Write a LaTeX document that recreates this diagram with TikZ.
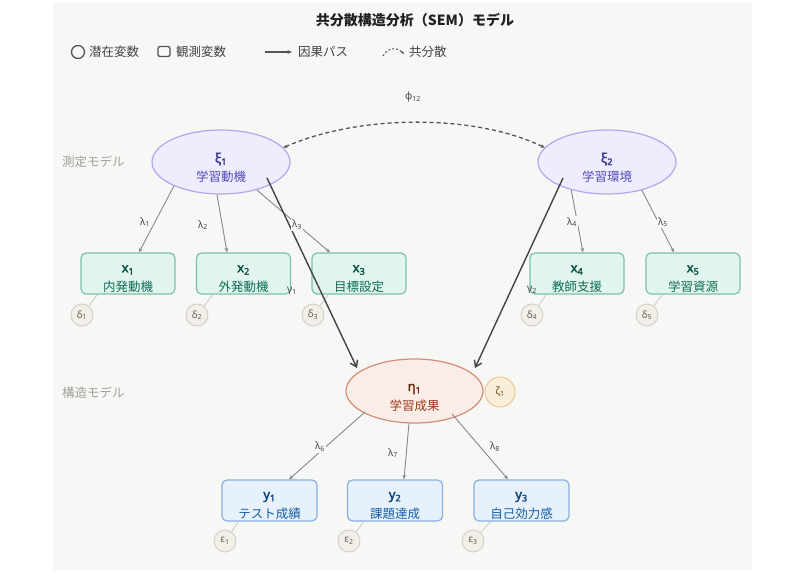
\documentclass[tikz,border=0pt]{standalone}
\usepackage{fontspec}
\setmainfont{Noto Sans CJK JP}
\newfontfamily\gk{Noto Sans}
\newfontfamily\gkb[AutoFakeBold=2.2]{Noto Sans}
\usetikzlibrary{shapes.geometric,arrows.meta,calc}
\definecolor{panel}{HTML}{F7F7F5}
\definecolor{latfill}{HTML}{EEEDFE}
\definecolor{latstroke}{HTML}{AFA9EC}
\definecolor{latname}{HTML}{3C3489}
\definecolor{latdesc}{HTML}{534AB7}
\definecolor{xfill}{HTML}{E1F5EE}
\definecolor{xstroke}{HTML}{7CC2A6}
\definecolor{xname}{HTML}{085041}
\definecolor{xdesc}{HTML}{0F6E56}
\definecolor{etafill}{HTML}{FAECE7}
\definecolor{etastroke}{HTML}{D38C77}
\definecolor{etaname}{HTML}{712B13}
\definecolor{etadesc}{HTML}{993C1D}
\definecolor{yfill}{HTML}{E6F1FB}
\definecolor{ystroke}{HTML}{85B2E0}
\definecolor{yname}{HTML}{0C447C}
\definecolor{ydesc}{HTML}{185FA5}
\definecolor{errfill}{HTML}{F1EFE8}
\definecolor{errstroke}{HTML}{D3D1C7}
\definecolor{errtext}{HTML}{5F5E5A}
\definecolor{zfill}{HTML}{FAEEDA}
\definecolor{zstroke}{HTML}{EAC98C}
\definecolor{ztext}{HTML}{633806}
\definecolor{loadc}{HTML}{888888}
\definecolor{structc}{HTML}{444444}
\definecolor{labc}{HTML}{444444}
\definecolor{sidegray}{HTML}{A0A09C}
\definecolor{legc}{HTML}{555555}
\definecolor{errlc}{HTML}{CFCFCB}
\definecolor{titlec}{HTML}{222222}
\begin{document}
\begin{tikzpicture}[x=1pt,y=-1pt,
  latent/.style={ellipse, draw=latstroke, fill=latfill, line width=1.2, minimum width=138, minimum height=64, inner sep=0},
  obsx/.style={rectangle, rounded corners=5, draw=xstroke, fill=xfill, line width=1.2, minimum width=94, minimum height=41, inner sep=0},
  obsy/.style={rectangle, rounded corners=5, draw=ystroke, fill=yfill, line width=1.2, minimum width=95, minimum height=41, inner sep=0},
  endo/.style={ellipse, draw=etastroke, fill=etafill, line width=1.2, minimum width=137, minimum height=64, inner sep=0},
  errc/.style={circle, draw=errstroke, fill=errfill, line width=1, minimum size=22, inner sep=0, text=errtext, font=\gk\fontsize{10}{12}\selectfont},
  distc/.style={circle, draw=zstroke, fill=zfill, line width=1, minimum size=30, inner sep=0, text=ztext, font=\gk\fontsize{10}{12}\selectfont},
  vname/.style={inner sep=0, font=\gkb\fontsize{13}{15}\selectfont\bfseries},
  vdesc/.style={inner sep=0, font=\fontsize{12.5}{15}\selectfont},
  loadarrow/.style={draw=loadc, line width=0.9, -{Stealth[length=4.5,width=3.6]}},
  structarrow/.style={draw=structc, line width=1.4, -{Straight Barb[length=6,width=8]}},
  errline/.style={draw=errlc, line width=0.9},
  lab/.style={fill=panel, inner sep=1.5, text=labc, font=\gk\fontsize{10}{12}\selectfont},
  glab/.style={inner sep=0, text=labc, font=\gk\fontsize{10}{12}\selectfont},
  legtext/.style={anchor=west, inner sep=0, text=labc, font=\fontsize{12.5}{15}\selectfont},
  sidetext/.style={anchor=west, inner sep=0, text=sidegray, font=\fontsize{12.5}{15}\selectfont}
]
\useasboundingbox (0,0) rectangle (800,586);
\fill[panel] (53,2) rectangle (752,570);

% title
\node[inner sep=0, text=titlec, font=\fontsize{14}{16}\selectfont\bfseries] (title) at (415,20) {共分散構造分析（SEM）モデル};

% legend
\node[circle, draw=legc, line width=1.3, minimum size=13, inner sep=0] (legcirc) at (78,52) {};
\node[legtext] (legt1) at (89,52) {潜在変数};
\node[rectangle, rounded corners=2, draw=legc, line width=1.3, minimum width=12, minimum height=10, inner sep=0] (legrect) at (164,51.5) {};
\node[legtext] (legt2) at (176,52) {観測変数};
\coordinate (lega1) at (265,52);
\coordinate (lega2) at (292,52);
\draw[draw=legc, line width=1.2, -{Stealth[length=4.5,width=3.6]}] (lega1) -- (lega2);
\node[legtext] (legt3) at (298,52) {因果パス};
\coordinate (legc1) at (383,56);
\coordinate (legc2) at (404,54);
\draw[draw=legc, line width=1, dash pattern=on 2pt off 2pt, -{Stealth[length=3.5,width=3]}] (legc1) .. controls (388,47) and (397,47) .. (legc2);
\node[legtext] (legt4) at (409,52) {共分散};

% side labels
\node[sidetext] (side1) at (62,162) {測定モデル};
\node[sidetext] (side2) at (62,393) {構造モデル};

% latent variables
\node[latent] (xi1) at (221,162) {};
\node[latent] (xi2) at (607,162) {};
\node[endo] (eta) at (414.5,391) {};
\node[vname, text=latname] (xi1n) at (221,159) {ξ\textsubscript{1}};
\node[vdesc, text=latdesc] (xi1d) at (221,177) {学習動機};
\node[vname, text=latname] (xi2n) at (607,159) {ξ\textsubscript{2}};
\node[vdesc, text=latdesc] (xi2d) at (607,177) {学習環境};
\node[vname, text=etaname] (etan) at (414.5,389) {η\textsubscript{1}};
\node[vdesc, text=etadesc] (etad) at (414.5,406) {学習成果};

% disturbance
\node[distc] (z1) at (500,392) {ζ\textsubscript{1}};

% observed x
\foreach \i/\xx/\dd in {1/128/内発動機, 2/243.5/外発動機, 3/359/目標設定, 4/577/教師支援, 5/693/学習資源}{
  \node[obsx] (x\i) at (\xx,273.5) {};
  \node[vname, text=xname] (x\i n) at (\xx,270) {x\textsubscript{\i}};
  \node[vdesc, text=xdesc] (x\i d) at (\xx,287) {\dd};
}
% observed y
\foreach \i/\xx/\dd in {1/269.5/テスト成績, 2/395/課題達成, 3/521.5/自己効力感}{
  \node[obsy] (y\i) at (\xx,500.5) {};
  \node[vname, text=yname] (y\i n) at (\xx,497) {y\textsubscript{\i}};
  \node[vdesc, text=ydesc] (y\i d) at (\xx,514) {\dd};
}

% error terms
\node[errc] (d1) at (82,315) {δ\textsubscript{1}};
\node[errc] (d2) at (197,315) {δ\textsubscript{2}};
\node[errc] (d3) at (313,315) {δ\textsubscript{3}};
\node[errc] (d4) at (532,315) {δ\textsubscript{4}};
\node[errc] (d5) at (647,315) {δ\textsubscript{5}};
\node[errc] (e1) at (225,541) {ε\textsubscript{1}};
\node[errc] (e2) at (349,541) {ε\textsubscript{2}};
\node[errc] (e3) at (473,541) {ε\textsubscript{3}};

\foreach \i in {1,...,5}{
  \draw[errline] (d\i) -- ($(x\i.south west)+(17,0)$);
}
\foreach \i in {1,2,3}{
  \draw[errline] (e\i) -- ($(y\i.south west)+(17,0)$);
}

% covariance
\draw[draw=legc, line width=1.3, dash pattern=on 4pt off 3pt, {Stealth[length=4,width=3.5]}-{Stealth[length=4,width=3.5]}] (xi1.13) .. controls (360,114) and (475,114) .. (xi2.167);

% loadings
\draw[loadarrow] (xi1.207) -- ($(x1.north)+(11,0)$);
\draw[loadarrow] (xi1.263) -- ($(x2.north)+(-16.5,0)$);
\draw[loadarrow] (xi1.322) -- ($(x3.north)+(-29,0)$);
\draw[loadarrow] (xi2.218) -- ($(x4.north)+(6,0)$);
\draw[loadarrow] (xi2.321) -- ($(x5.north)+(-19,0)$);
\draw[loadarrow] ($(eta)+(-49.5,21)$) -- ($(y1.north)+(19.5,0)$);
\draw[loadarrow] ($(eta)+(-5.5,32)$) -- ($(y2.north)+(9,0)$);
\draw[loadarrow] ($(eta)+(37.5,23)$) -- ($(y3.north)+(-13.5,0)$);

% structural paths
\draw[structarrow] ($(xi1)+(46,16)$) -- ($(eta)+(-57.5,-23)$);
\draw[structarrow] ($(xi2)+(-44,16)$) -- ($(eta)+(60.5,-23)$);

% labels
\node[lab] (l1) at (145,222) {λ\textsubscript{1}};
\node[lab] (l2) at (203,225) {λ\textsubscript{2}};
\node[lab] (l3) at (297,225) {λ\textsubscript{3}};
\node[lab] (l4) at (572,222) {λ\textsubscript{4}};
\node[lab] (l5) at (663,222) {λ\textsubscript{5}};
\node[lab] (l6) at (320,447) {λ\textsubscript{6}};
\node[lab] (l7) at (393,453) {λ\textsubscript{7}};
\node[lab] (l8) at (495,447) {λ\textsubscript{8}};
\node[glab] (g1) at (292,291) {γ\textsubscript{1}};
\node[glab] (g2) at (532,290) {γ\textsubscript{2}};
\node[glab] (phi) at (413,97) {φ\textsubscript{12}};
\end{tikzpicture}
\end{document}
